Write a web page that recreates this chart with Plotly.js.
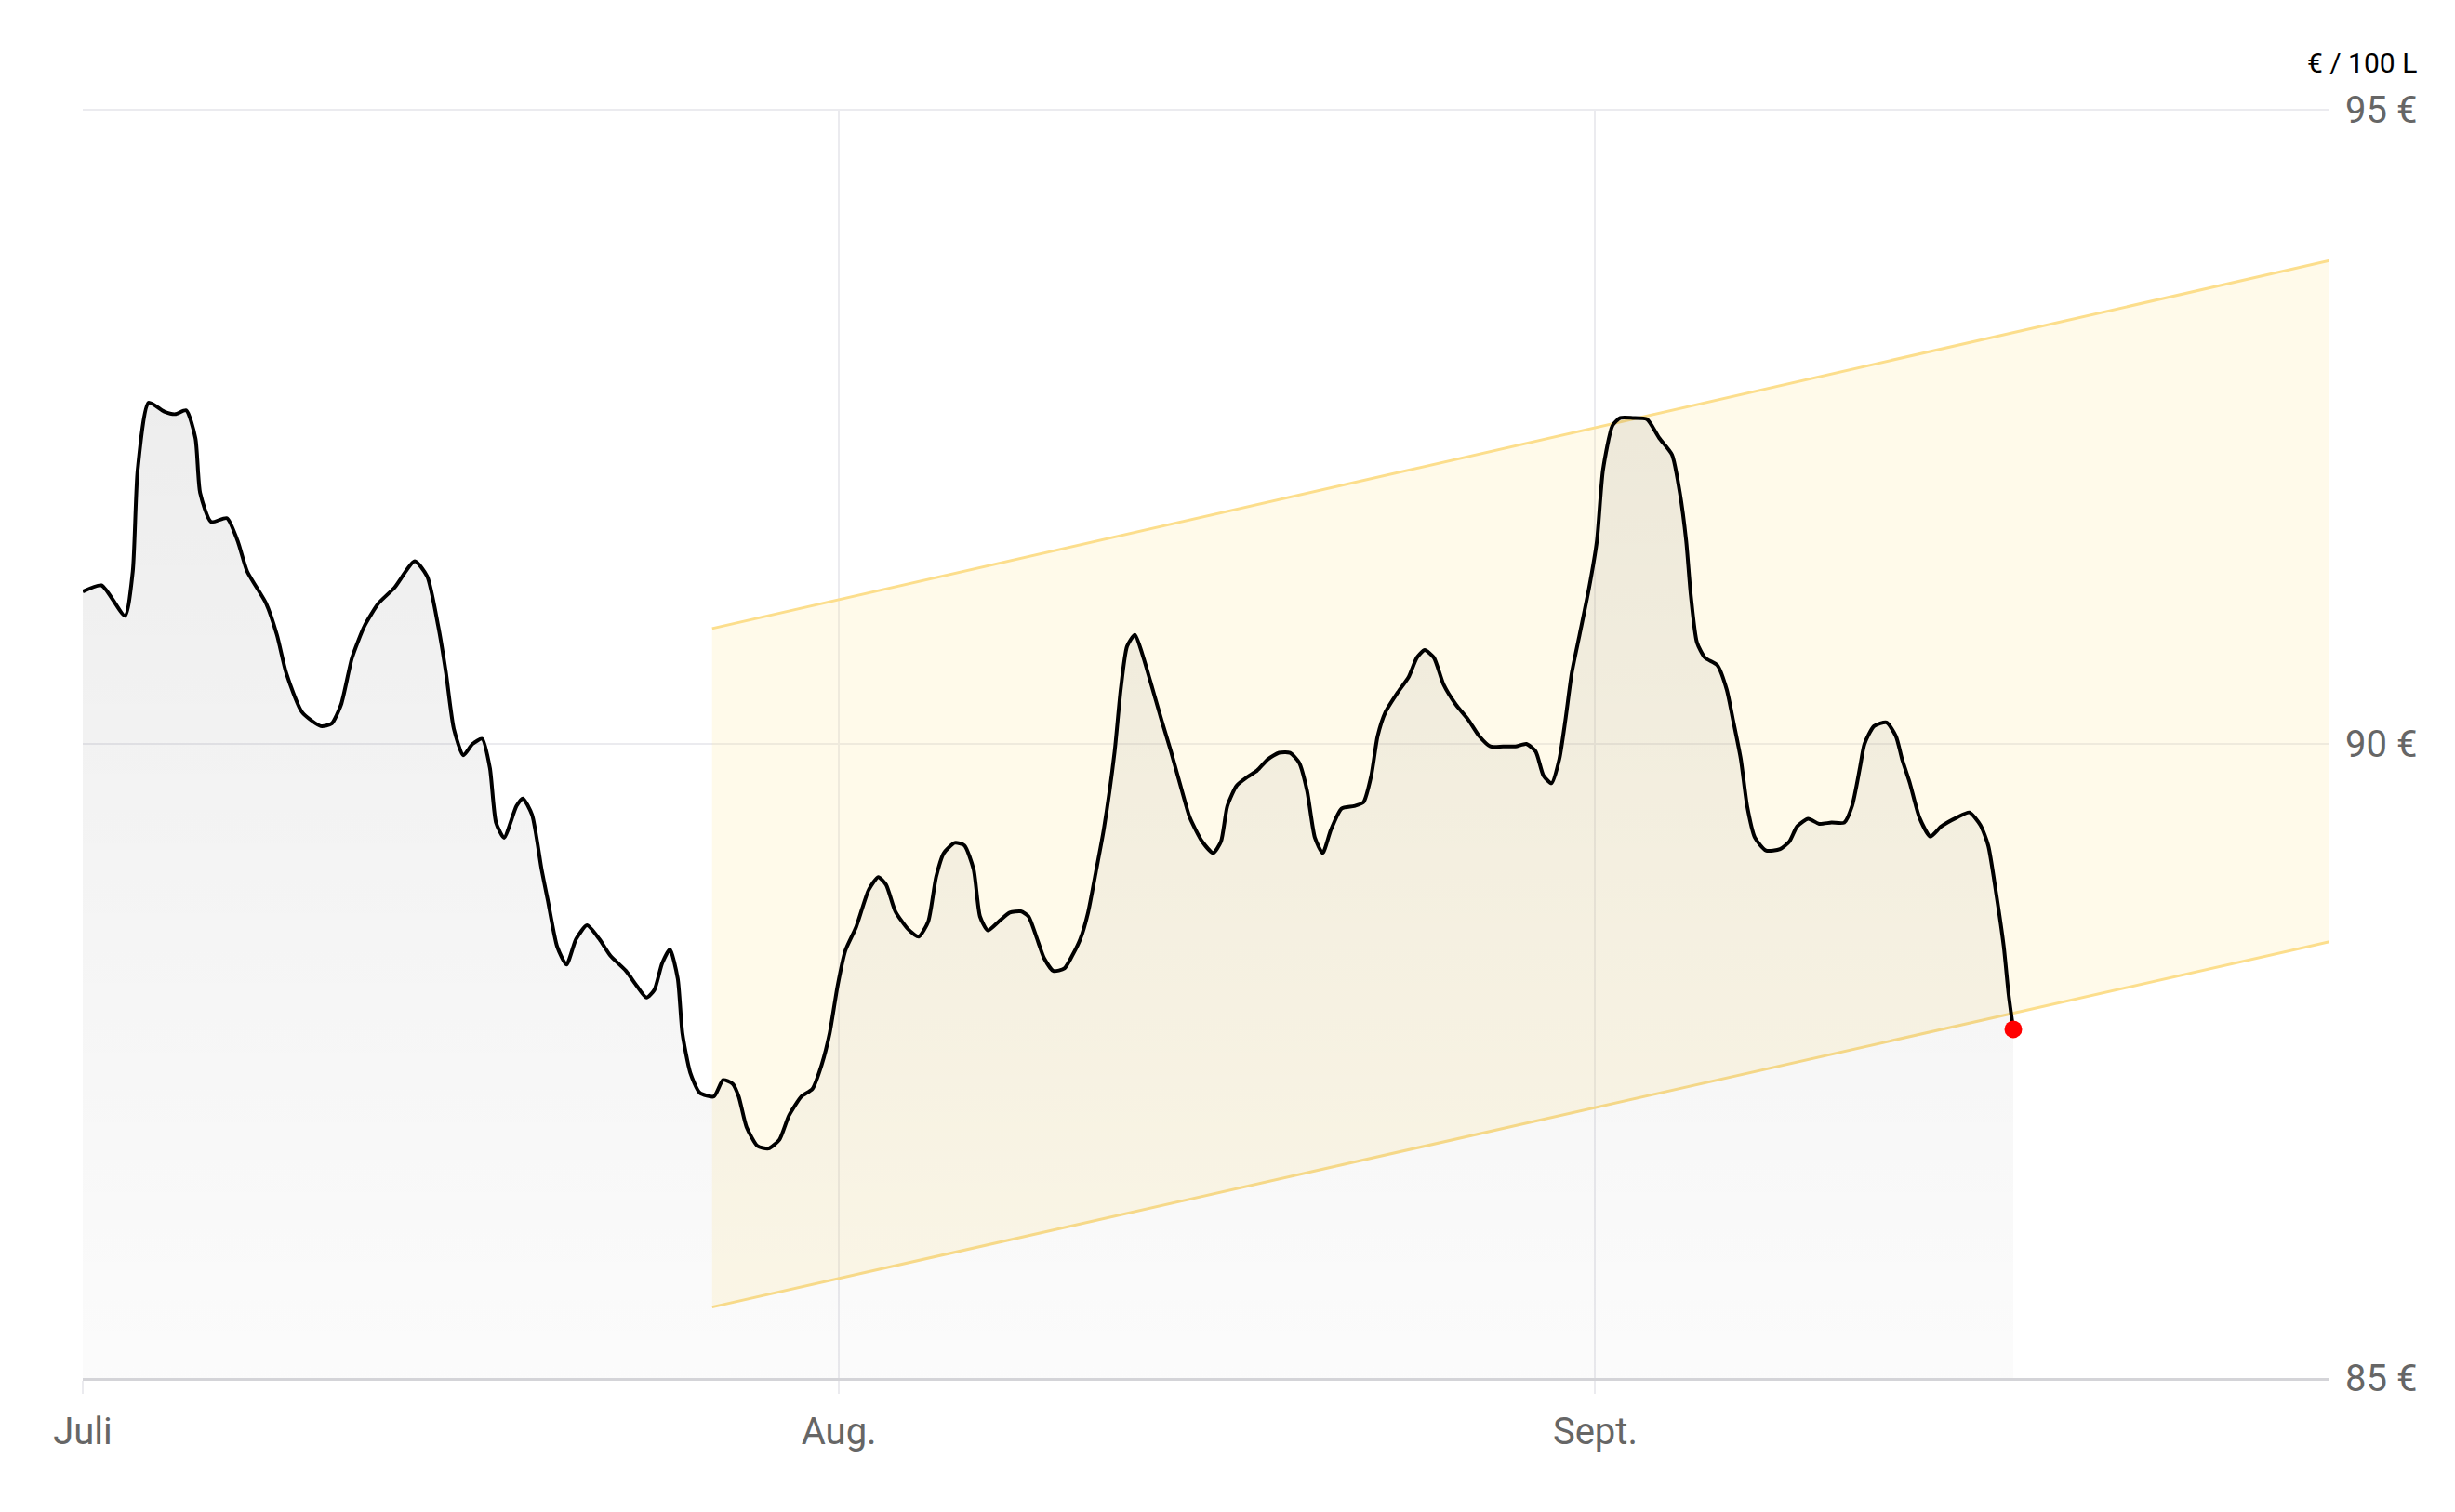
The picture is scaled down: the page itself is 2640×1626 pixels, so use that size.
<!DOCTYPE html>
<html>
<head>
<meta charset="utf-8">
<script src="https://cdn.plot.ly/plotly-3.0.1.min.js"></script>
<style>
  html, body { margin: 0; padding: 0; background: #ffffff; }
  #chart { width: 2640px; height: 1626px; }
</style>
</head>
<body>
<div id="chart"></div>
<script>
// Days since 1 July (fractional)
const days = [0.00,0.77,1.73,2.05,2.25,2.70,3.34,3.79,4.24,4.62,4.81,5.26,5.91,6.35,6.74,7.51,7.96,8.34,8.99,9.76,
10.20,10.59,11.04,11.55,12.13,12.77,13.61,14.12,14.57,14.89,15.21,15.60,15.98,16.37,16.69,16.94,17.27,17.78,18.04,18.42,
18.81,19.06,19.45,19.83,20.22,20.67,21.18,21.63,22.27,22.72,23.11,23.43,23.75,24.07,24.39,24.58,24.90,25.29,25.87,26.25,
26.64,26.89,27.21,27.66,28.11,28.56,28.95,29.46,29.91,30.29,30.62,30.94,31.26,31.71,32.22,32.61,32.93,33.31,33.83,34.27,
34.66,34.98,35.30,35.75,36.14,36.52,36.78,37.10,37.55,38.00,38.45,38.77,39.09,39.41,39.79,40.24,40.56,40.89,41.21,41.53,
41.85,42.30,42.55,42.81,43.13,43.45,43.77,44.22,44.61,45.06,45.38,45.89,46.34,46.66,46.92,47.30,47.75,48.14,48.59,49.04,
49.49,49.87,50.19,50.51,50.83,51.16,51.60,52.12,52.50,52.82,53.08,53.40,53.92,54.36,54.69,55.01,55.39,55.78,56.29,56.80,
57.25,57.70,58.22,58.73,59.18,59.56,59.88,60.21,60.53,60.78,61.04,61.36,61.75,62.07,62.32,62.71,63.03,63.54,64.12,64.63,
65.15,65.47,65.73,65.92,66.17,66.50,67.01,67.39,67.65,67.97,68.23,68.55,69.00,69.58,69.96,70.28,70.73,71.18,71.69,72.21,
72.53,72.85,73.04,73.43,73.94,74.33,74.58,74.90,75.29,75.74,76.19,76.83,77.34,77.79,78.11,78.43,78.75,78.95,79.14];

// Price in € per 100 L
const prices = [91.20,91.25,91.01,91.36,92.16,92.69,92.62,92.60,92.63,92.41,91.98,91.75,91.78,91.60,91.36,91.11,90.86,90.56,90.25,90.14,
90.16,90.31,90.68,90.93,91.11,91.23,91.44,91.32,90.93,90.56,90.12,89.91,90.00,90.04,89.81,89.38,89.26,89.51,89.57,89.44,
89.01,88.77,88.40,88.26,88.46,88.57,88.46,88.33,88.21,88.09,88.00,88.06,88.27,88.38,88.15,87.72,87.41,87.25,87.22,87.35,
87.32,87.22,86.98,86.83,86.81,86.88,87.07,87.22,87.28,87.47,87.72,88.09,88.37,88.56,88.85,88.95,88.89,88.68,88.54,88.48,
88.60,88.95,89.14,89.22,89.20,89.01,88.64,88.53,88.60,88.67,88.68,88.64,88.48,88.31,88.21,88.23,88.33,88.46,88.67,88.99,
89.32,89.94,90.43,90.77,90.86,90.70,90.49,90.19,89.94,89.63,89.42,89.23,89.14,89.23,89.51,89.67,89.74,89.79,89.88,89.93,
89.93,89.85,89.63,89.26,89.14,89.32,89.49,89.51,89.54,89.75,90.06,90.25,90.41,90.53,90.68,90.74,90.68,90.47,90.31,90.19,
90.06,89.98,89.98,89.98,90.00,89.94,89.75,89.69,89.88,90.19,90.56,90.86,91.23,91.60,92.16,92.51,92.57,92.57,92.56,92.41,
92.28,91.98,91.60,91.17,90.80,90.68,90.62,90.43,90.19,89.88,89.51,89.26,89.16,89.17,89.23,89.35,89.41,89.37,89.38,89.38,
89.51,89.81,90.00,90.14,90.17,90.06,89.88,89.69,89.42,89.27,89.35,89.42,89.46,89.36,89.20,88.83,88.40,88.02,87.75];

// Trend channel (start and end of the band)
const bandDays = [25.8, 92.1];
const bandLower = [85.56, 88.44];
const bandUpper = [90.91, 93.81];

// Axis ticks
const xTickVals = [0, 31, 62];
const xTickText = ['Juli', 'Aug.', 'Sept.'];
const yTickVals = [85, 90, 95];
const yTickText = ['85 €', '90 €', '95 €'];
const unitLabel = '€ / 100 L';

const FONT = 'Roboto, "Liberation Sans", Arial, sans-serif';
const GRID = '#ebebef';

const traces = [
  {
    x: bandDays, y: bandLower, type: 'scatter', mode: 'lines',
    line: { color: 'rgb(252, 222, 140)', width: 3 },
    hoverinfo: 'skip'
  },
  {
    x: bandDays, y: bandUpper, type: 'scatter', mode: 'lines',
    fill: 'tonexty', fillcolor: 'rgba(253, 233, 160, 0.22)',
    line: { color: 'rgb(252, 222, 140)', width: 3 },
    hoverinfo: 'skip'
  },
  {
    x: days, y: prices, type: 'scatter', mode: 'lines',
    line: { color: '#000000', width: 4, shape: 'spline', smoothing: 0.6 },
    fill: 'tozeroy',
    fillgradient: {
      type: 'vertical',
      start: 92.7, stop: 85,
      colorscale: [[0, 'rgba(0,0,0,0.07)'], [1, 'rgba(0,0,0,0.015)']]
    },
    hoverinfo: 'skip'
  },
  {
    x: [days[days.length - 1]], y: [prices[prices.length - 1]],
    type: 'scatter', mode: 'markers',
    marker: { color: '#FF0000', size: 19 },
    hoverinfo: 'skip'
  }
];

const layout = {
  width: 2640, height: 1626,
  margin: { l: 89, r: 135, t: 118, b: 144 },
  paper_bgcolor: '#ffffff', plot_bgcolor: '#ffffff',
  showlegend: false,
  font: { family: FONT, color: '#666666', size: 40 },
  xaxis: {
    range: [0, 92.1],
    tickmode: 'array', tickvals: xTickVals, ticktext: xTickText,
    showgrid: true, gridcolor: GRID, gridwidth: 2,
    zeroline: false,
    showline: true, linecolor: '#d4d4d8', linewidth: 3,
    ticks: 'outside', ticklen: 14, tickcolor: GRID, tickwidth: 2,
    tickfont: { family: FONT, color: '#666666', size: 40 },
    ticklabelstandoff: 6,
    fixedrange: true
  },
  yaxis: {
    range: [85, 95], side: 'right',
    tickmode: 'array', tickvals: yTickVals, ticktext: yTickText,
    showgrid: true, gridcolor: GRID, gridwidth: 2,
    zeroline: false, showline: false, ticks: '',
    tickfont: { family: FONT, color: '#666666', size: 40 },
    ticklabelstandoff: 16,
    fixedrange: true
  },
  shapes: [{
    type: 'line', xref: 'paper', yref: 'paper', x0: 0, x1: 1, y0: 1, y1: 1,
    line: { color: GRID, width: 2 }, layer: 'below'
  }],
  annotations: [{
    text: unitLabel, xref: 'paper', yref: 'paper', x: 1, y: 1,
    xanchor: 'right', yanchor: 'middle', xshift: 96, yshift: 51,
    showarrow: false,
    font: { family: FONT, color: '#000000', size: 30 }
  }]
};

Plotly.newPlot('chart', traces, layout, { displayModeBar: false, staticPlot: true });
</script>
</body>
</html>
